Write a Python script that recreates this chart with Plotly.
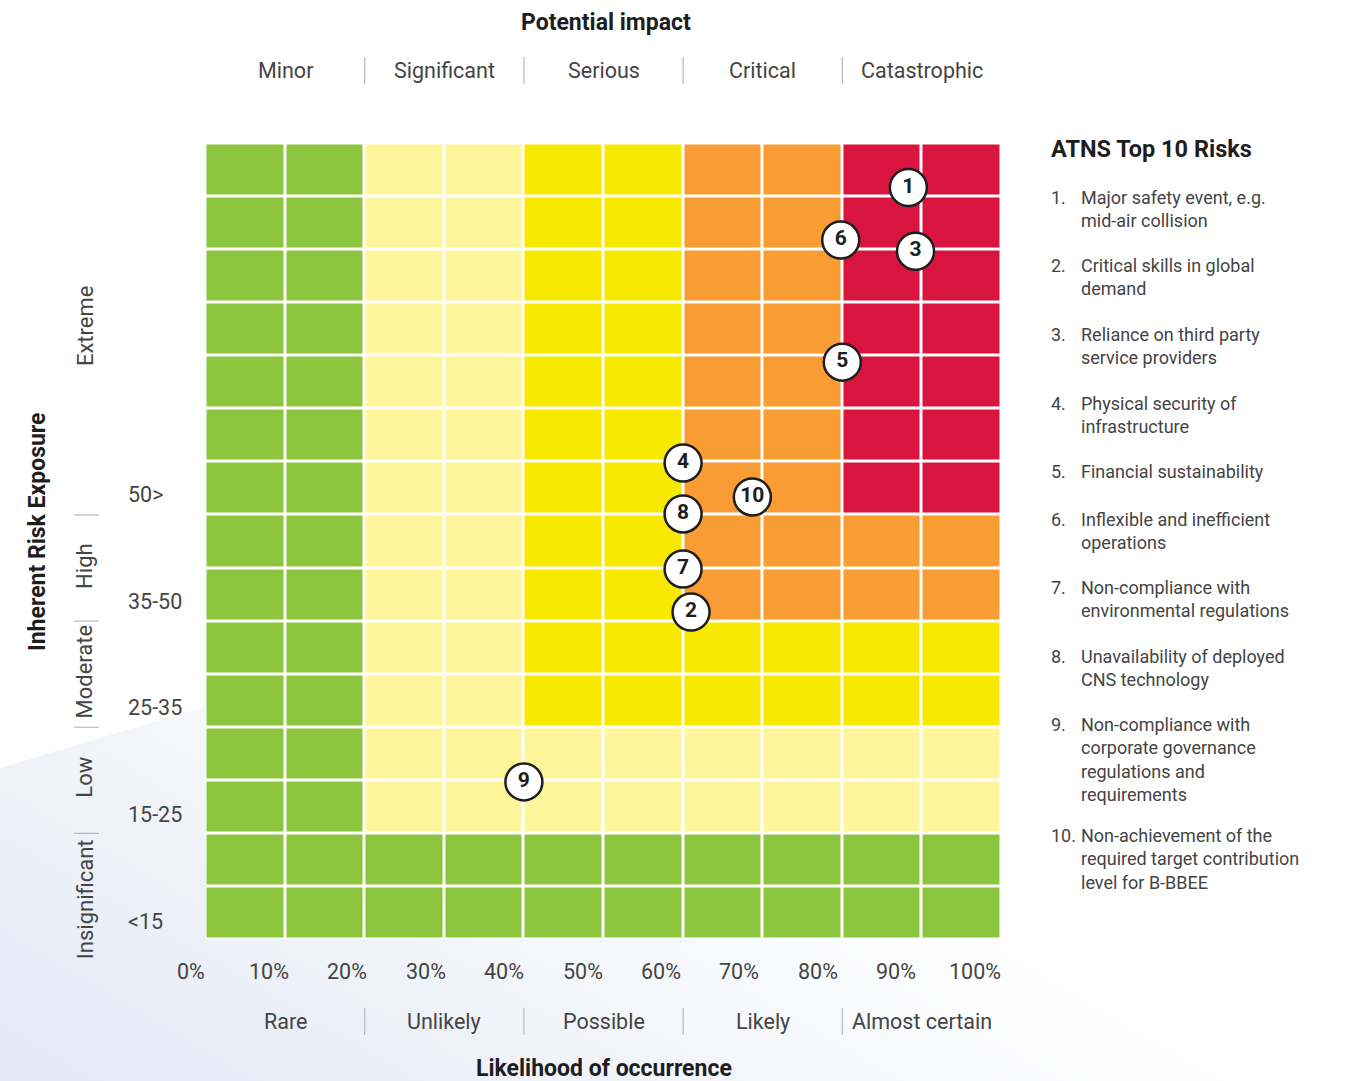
import base64
import plotly.graph_objects as go

# ---------------- data ----------------
likelihood_vals = [0, 10, 20, 30, 40, 50, 60, 70, 80, 90, 100]
likelihood_ticks = ["0%", "10%", "20%", "30%", "40%", "50%", "60%", "70%", "80%", "90%", "100%"]
likelihood_bands = ["Rare", "Unlikely", "Possible", "Likely", "Almost certain"]
impact_bands = ["Minor", "Significant", "Serious", "Critical", "Catastrophic"]
band_centres = [10, 30, 50, 70, 90]
band_edges = [20, 40, 60, 80]

exposure_levels = ["Insignificant", "Low", "Moderate", "High", "Extreme"]
exposure_level_mid = [0.76, 3.05, 5.05, 7.04, 11.56]
exposure_edges = [2, 4, 6, 8]
score_bands = ["<15", "15-25", "25-35", "35-50", "50>"]
score_band_pos = [0.34, 2.36, 4.37, 6.37, 8.38]

col_centres = [5, 15, 25, 35, 45, 55, 65, 75, 85, 95]
row_centres = [i + 0.5 for i in range(15)]
# zone code per row (bottom -> top): 0 green, 1 pale yellow, 2 yellow, 3 orange, 4 red
zone_rows = [
    [0, 0, 0, 0, 0, 0, 0, 0, 0, 0],
    [0, 0, 0, 0, 0, 0, 0, 0, 0, 0],
    [0, 0, 1, 1, 1, 1, 1, 1, 1, 1],
    [0, 0, 1, 1, 1, 1, 1, 1, 1, 1],
    [0, 0, 1, 1, 2, 2, 2, 2, 2, 2],
    [0, 0, 1, 1, 2, 2, 2, 2, 2, 2],
    [0, 0, 1, 1, 2, 2, 3, 3, 3, 3],
    [0, 0, 1, 1, 2, 2, 3, 3, 3, 3],
    [0, 0, 1, 1, 2, 2, 3, 3, 4, 4],
    [0, 0, 1, 1, 2, 2, 3, 3, 4, 4],
    [0, 0, 1, 1, 2, 2, 3, 3, 4, 4],
    [0, 0, 1, 1, 2, 2, 3, 3, 4, 4],
    [0, 0, 1, 1, 2, 2, 3, 3, 4, 4],
    [0, 0, 1, 1, 2, 2, 3, 3, 4, 4],
    [0, 0, 1, 1, 2, 2, 3, 3, 4, 4],
]
zone_colors = ["#8cc63f", "#fff59b", "#f7ea00", "#f89c33", "#d8143f"]

risk_ids = ["1", "2", "3", "4", "5", "6", "7", "8", "9", "10"]
risk_likelihood = [88.3, 61.0, 89.2, 60.0, 80.0, 79.8, 60.0, 60.0, 40.0, 68.7]
risk_exposure = [14.17, 6.17, 12.97, 8.98, 10.88, 13.18, 6.98, 8.02, 2.97, 8.34]
risk_labels = [
    "Major safety event, e.g.<br>mid-air collision",
    "Critical skills in global<br>demand",
    "Reliance on third party<br>service providers",
    "Physical security of<br>infrastructure",
    "Financial sustainability",
    "Inflexible and inefficient<br>operations",
    "Non-compliance with<br>environmental regulations",
    "Unavailability of deployed<br>CNS technology",
    "Non-compliance with<br>corporate governance<br>regulations and<br>requirements",
    "Non-achievement of the<br>required target contribution<br>level for B-BBEE",
]

# ---------------- layout helpers ----------------
W, H = 1360, 1081
FONT = "Roboto"
TXT = "#444444"
DARK = "#1e1e1e"


def px(x):
    return x / W


def py(y):
    return 1 - y / H


def ann(text, x, y, xref="paper", yref="paper", size=21, color=TXT, xanchor="center",
        yanchor="middle", **kw):
    d = dict(text=text, x=x, y=y, xref=xref, yref=yref, showarrow=False, xanchor=xanchor,
             yanchor=yanchor, font=dict(family=FONT, size=size, color=color))
    d.update(kw)
    return d


fig = go.Figure()

n_z = len(zone_colors)
colorscale = []
for i, c in enumerate(zone_colors):
    colorscale.append([i / n_z, c])
    colorscale.append([(i + 1) / n_z, c])

fig.add_trace(go.Heatmap(
    x=col_centres, y=row_centres, z=zone_rows,
    zmin=-0.5, zmax=n_z - 0.5, colorscale=colorscale, showscale=False,
    xgap=3, ygap=3, hoverinfo="skip",
))

fig.add_trace(go.Scatter(
    x=risk_likelihood, y=risk_exposure, text=["<b>%s</b>" % r for r in risk_ids],
    mode="markers+text", textposition="middle center",
    marker=dict(size=37, color="white", line=dict(color=DARK, width=2.5)),
    textfont=dict(family=FONT, size=21, color=DARK),
    hoverinfo="skip", showlegend=False, cliponaxis=False,
))

annotations = []
shapes = []

# background gradient
svg = ('<svg xmlns="http://www.w3.org/2000/svg" width="1360" height="1081" viewBox="0 0 1360 1081">'
       '<defs><linearGradient id="g" x1="0" y1="1" x2="0.5" y2="0.55">'
       '<stop offset="0" stop-color="#e3e8f4"/><stop offset="1" stop-color="#ffffff"/>'
       '</linearGradient></defs>'
       '<polygon points="0,768 1360,360 1360,1081 0,1081" fill="url(#g)"/></svg>')
img_src = "data:image/svg+xml;base64," + base64.b64encode(svg.encode()).decode()

# white backing under the grid
shapes.append(dict(type="rect", xref="x", yref="y", x0=0, x1=100, y0=0, y1=15,
                   fillcolor="white", line=dict(width=0), layer="below"))

# titles
annotations.append(ann("<b>Potential impact</b>", px(606), py(22), size=23, color=DARK))
annotations.append(ann("<b>Likelihood of occurrence</b>", px(604), py(1068), size=23, color=DARK))
annotations.append(ann("<b>Inherent Risk Exposure</b>", px(37), py(532), size=23, color=DARK,
                       textangle=-90))

# impact and likelihood band labels
for name, c in zip(impact_bands, band_centres):
    annotations.append(ann(name, c, py(70), xref="x", size=21.5))
for name, c in zip(likelihood_bands, band_centres):
    annotations.append(ann(name, c, py(1021), xref="x", size=21.5))
for e in band_edges:
    shapes.append(dict(type="line", xref="x", yref="paper", x0=e, x1=e, y0=py(57), y1=py(84),
                       line=dict(color="#b8b8b8", width=1.2)))
    shapes.append(dict(type="line", xref="x", yref="paper", x0=e, x1=e, y0=py(1008), y1=py(1035),
                       line=dict(color="#b8b8b8", width=1.2)))

# percentage tick labels (set slightly left of each grid line, as in the original)
for v, t in zip(likelihood_vals, likelihood_ticks):
    annotations.append(ann(t, v, py(971), xref="x", size=21.5, xshift=-15 - 0.12 * v))

# exposure level labels (rotated) and score bands
for name, m in zip(exposure_levels, exposure_level_mid):
    annotations.append(ann(name, px(85), m, yref="y", size=22, textangle=-90))
for e in exposure_edges:
    shapes.append(dict(type="line", xref="paper", yref="y", x0=px(74), x1=px(99), y0=e, y1=e,
                       line=dict(color="#b8b8b8", width=1.2)))
for name, p in zip(score_bands, score_band_pos):
    annotations.append(ann(name, px(126), p, yref="y", size=21.5, xanchor="left"))

# right-hand list
annotations.append(ann("<b>ATNS Top 10 Risks</b>", px(1049), py(149), size=23.5, color=DARK,
                       xanchor="left"))
y_cur = 197
for rid, label in zip(risk_ids, risk_labels):
    n_lines = label.count("<br>") + 1
    annotations.append(ann(rid + ".", px(1049), py(y_cur - 12), size=18, xanchor="left",
                           yanchor="top"))
    annotations.append(ann(label, px(1079), py(y_cur - 12), size=18, xanchor="left",
                           yanchor="top", align="left"))
    y_cur += n_lines * 21 + 26.5

fig.update_layout(
    width=W, height=H, margin=dict(l=0, r=0, t=0, b=0),
    paper_bgcolor="white", plot_bgcolor="white",
    xaxis=dict(domain=[px(205.5), px(1001.5)], range=[0, 100], showgrid=False, zeroline=False,
               showticklabels=False, ticks="", fixedrange=True),
    yaxis=dict(domain=[py(939.5), py(143.5)], range=[0, 15], showgrid=False, zeroline=False,
               showticklabels=False, ticks="", fixedrange=True),
    annotations=annotations, shapes=shapes,
    images=[dict(source=img_src, xref="paper", yref="paper", x=0, y=1, sizex=1, sizey=1,
                 xanchor="left", yanchor="top", sizing="stretch", layer="below")],
    showlegend=False,
)

fig.write_html("out.html", post_script="document.body.style.margin='0';",
               config={"displayModeBar": False})
